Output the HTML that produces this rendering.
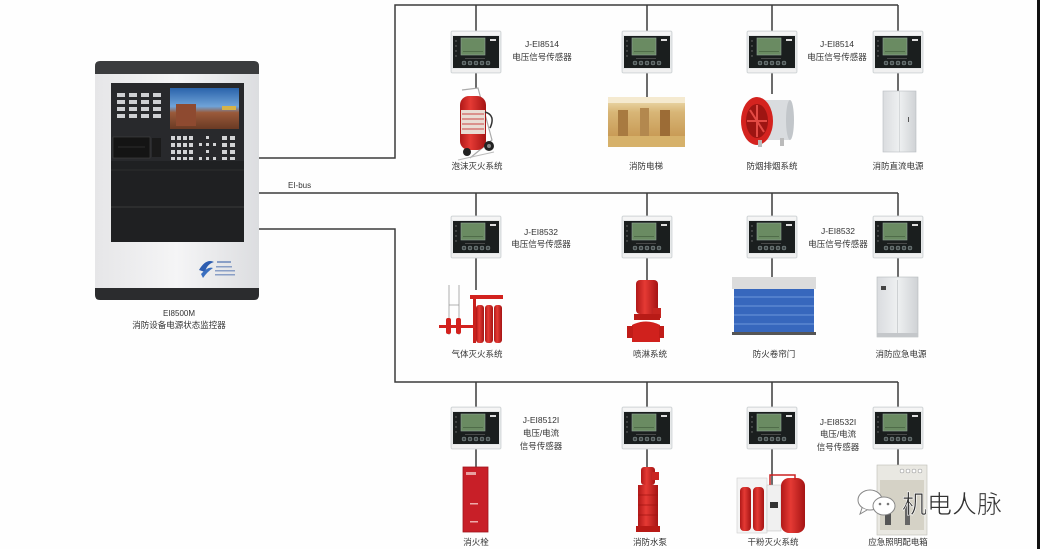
<!DOCTYPE html>
<html><head><meta charset="utf-8"><style>
html,body{margin:0;padding:0;background:#fff;}
svg{display:block;}
text{font-family:"Liberation Sans","Noto Sans CJK SC",sans-serif;fill:#333;}
</style></head><body>
<svg width="1040" height="549" viewBox="0 0 1040 549" xmlns="http://www.w3.org/2000/svg">
<defs>
<linearGradient id="body" x1="0" x2="1" y1="0" y2="0"><stop offset="0" stop-color="#e6e6e8"/><stop offset="0.5" stop-color="#f5f5f6"/><stop offset="1" stop-color="#dcdde0"/></linearGradient>
<linearGradient id="scr" x1="0" x2="0" y1="0" y2="1"><stop offset="0" stop-color="#2a63ab"/><stop offset="0.45" stop-color="#6fa3d8"/><stop offset="0.6" stop-color="#9a5a3a"/><stop offset="1" stop-color="#6a3a24"/></linearGradient>
<linearGradient id="lobby" x1="0" x2="0" y1="0" y2="1"><stop offset="0" stop-color="#f1e2b8"/><stop offset="0.3" stop-color="#d8b677"/><stop offset="0.8" stop-color="#c89a55"/><stop offset="1" stop-color="#e2c990"/></linearGradient>
<linearGradient id="cyl" x1="0" x2="1" y1="0" y2="0"><stop offset="0" stop-color="#b01818"/><stop offset="0.4" stop-color="#e53a34"/><stop offset="1" stop-color="#a51414"/></linearGradient>
<linearGradient id="cab" x1="0" x2="1" y1="0" y2="0"><stop offset="0" stop-color="#dadcdf"/><stop offset="0.5" stop-color="#eef0f1"/><stop offset="1" stop-color="#cfd2d5"/></linearGradient>
<g id="sensor">
  <rect x="0" y="0" width="50" height="42" rx="1.5" fill="#e6e8e9" stroke="#cfd3d5" stroke-width="0.8"/>
  <rect x="1" y="1" width="48" height="3" fill="#f5f5f5"/>
  <rect x="2" y="5" width="46" height="32" fill="#1a1e1e"/>
  <rect x="10" y="7" width="24" height="17" fill="#6a8b62" stroke="#8fa596" stroke-width="0.6"/>
  <rect x="12" y="20" width="20" height="1" fill="#4f6c49"/>
  <circle cx="5" cy="10" r="0.7" fill="#777"/><circle cx="5" cy="15" r="0.7" fill="#777"/><circle cx="5" cy="20" r="0.7" fill="#777"/><circle cx="5" cy="25" r="0.7" fill="#777"/>
  <rect x="39" y="8" width="6" height="2" fill="#ddd"/>
  <rect x="14" y="27" width="20" height="0.8" fill="#555"/>
  <circle cx="13" cy="32" r="2" fill="#3e4444" stroke="#9aa" stroke-width="0.5"/>
  <circle cx="19" cy="32" r="2" fill="#3e4444" stroke="#9aa" stroke-width="0.5"/>
  <circle cx="25" cy="32" r="2" fill="#3e4444" stroke="#9aa" stroke-width="0.5"/>
  <circle cx="31" cy="32" r="2" fill="#3e4444" stroke="#9aa" stroke-width="0.5"/>
  <circle cx="37" cy="32" r="2" fill="#3e4444" stroke="#9aa" stroke-width="0.5"/>
  <rect x="1" y="38" width="48" height="3" fill="#f0f0f0"/>
</g>
</defs>

<rect x="0" y="0" width="1040" height="549" fill="#fefefe"/>
<rect x="1037" y="0" width="3" height="549" fill="#111"/>

<!-- bus lines -->
<g stroke="#3c3c3c" stroke-width="1.5" fill="none">
  <path d="M258,158 H395 V5 H898"/>
  <path d="M258,193 H898"/>
  <path d="M258,229 H395 V382 H898"/>
  <path d="M476,5 V31 M476,73 V88"/>
  <path d="M647,5 V31 M647,73 V97"/>
  <path d="M772,5 V31 M772,73 V94"/>
  <path d="M898,5 V31 M898,73 V91"/>
  <path d="M476,193 V216 M476,258 V290"/>
  <path d="M647,193 V216 M647,258 V280"/>
  <path d="M772,193 V216 M772,258 V278"/>
  <path d="M898,193 V216 M898,258 V278"/>
  <path d="M476,382 V407 M476,449 V468"/>
  <path d="M647,382 V407 M647,449 V468"/>
  <path d="M772,382 V407 M772,449 V485"/>
  <path d="M898,382 V407 M898,449 V466"/>
</g>
<text x="288" y="188" font-size="8" fill="#444">EI-bus</text>

<!-- sensors -->
<use href="#sensor" x="451" y="31"/><use href="#sensor" x="622" y="31"/><use href="#sensor" x="747" y="31"/><use href="#sensor" x="873" y="31"/>
<use href="#sensor" x="451" y="216"/><use href="#sensor" x="622" y="216"/><use href="#sensor" x="747" y="216"/><use href="#sensor" x="873" y="216"/>
<use href="#sensor" x="451" y="407"/><use href="#sensor" x="622" y="407"/><use href="#sensor" x="747" y="407"/><use href="#sensor" x="873" y="407"/>

<!-- sensor labels -->
<g font-size="8.5" text-anchor="middle">
  <text x="542" y="47">J-EI8514</text><text x="542" y="60">电压信号传感器</text>
  <text x="837" y="47">J-EI8514</text><text x="837" y="60">电压信号传感器</text>
  <text x="541" y="235">J-EI8532</text><text x="541" y="247">电压信号传感器</text>
  <text x="838" y="234">J-EI8532</text><text x="838" y="247">电压信号传感器</text>
  <text x="541" y="423">J-EI8512I</text><text x="541" y="436">电压/电流</text><text x="541" y="449">信号传感器</text>
  <text x="838" y="425">J-EI8532I</text><text x="838" y="437">电压/电流</text><text x="838" y="450">信号传感器</text>
</g>

<!-- item labels -->
<g font-size="8.5" text-anchor="middle">
  <text x="477" y="169">泡沫灭火系统</text>
  <text x="646" y="169">消防电梯</text>
  <text x="772" y="169">防烟排烟系统</text>
  <text x="898" y="169">消防直流电源</text>
  <text x="477" y="357">气体灭火系统</text>
  <text x="650" y="357">喷淋系统</text>
  <text x="774" y="357">防火卷帘门</text>
  <text x="901" y="357">消防应急电源</text>
  <text x="476" y="545">消火栓</text>
  <text x="650" y="545">消防水泵</text>
  <text x="773" y="545">干粉灭火系统</text>
  <text x="898" y="545">应急照明配电箱</text>
</g>

<!-- main panel -->
<rect x="95" y="61" width="164" height="239" rx="5" fill="url(#body)"/>
<path d="M95,74 V66 Q95,61 100,61 H254 Q259,61 259,66 V74 Z" fill="#3b3c3e"/>
<path d="M95,288 H259 V295 Q259,300 254,300 H100 Q95,300 95,295 Z" fill="#2b2c2e"/>
<rect x="111" y="83" width="133" height="159" fill="#1f2022"/>
<rect x="111" y="83" width="133" height="78" fill="#28292c"/>
<line x1="111" y1="170" x2="244" y2="170" stroke="#333" stroke-width="0.8"/>
<line x1="111" y1="207" x2="244" y2="207" stroke="#3a3a3a" stroke-width="1"/>
<rect x="170" y="88" width="69" height="41" fill="url(#scr)"/>
<rect x="176" y="104" width="20" height="22" fill="#8e4a30"/>
<rect x="222" y="106" width="14" height="4" fill="#d7b347"/>
<g fill="#cfd0d3">
  <rect x="117" y="93" width="8" height="4"/><rect x="129" y="93" width="8" height="4"/><rect x="141" y="93" width="8" height="4"/><rect x="153" y="93" width="8" height="4"/>
  <rect x="117" y="100" width="8" height="4"/><rect x="129" y="100" width="8" height="4"/><rect x="141" y="100" width="8" height="4"/><rect x="153" y="100" width="8" height="4"/>
  <rect x="117" y="107" width="8" height="4"/><rect x="129" y="107" width="8" height="4"/><rect x="141" y="107" width="8" height="4"/><rect x="153" y="107" width="8" height="4"/>
  <rect x="117" y="114" width="8" height="4"/><rect x="129" y="114" width="8" height="4"/><rect x="141" y="114" width="8" height="4"/><rect x="153" y="114" width="8" height="4"/>
</g>
<rect x="113" y="137" width="37" height="21" fill="#141414" stroke="#444" stroke-width="0.6"/>
<line x1="118" y1="147" x2="145" y2="147" stroke="#444" stroke-width="0.6"/>
<rect x="152" y="138" width="9" height="19" fill="#1a1a1a"/>
<g fill="#d2d3d5">
  <rect x="171" y="136" width="4" height="4"/><rect x="177" y="136" width="4" height="4"/><rect x="183" y="136" width="4" height="4"/><rect x="189" y="136" width="4" height="4"/><rect x="206" y="136" width="3" height="3"/><rect x="222" y="136" width="5" height="4"/><rect x="230" y="136" width="5" height="4"/>
  <rect x="171" y="143" width="4" height="4"/><rect x="177" y="143" width="4" height="4"/><rect x="183" y="143" width="4" height="4"/><rect x="189" y="143" width="4" height="4"/><rect x="199" y="143" width="3" height="3"/><rect x="206" y="143" width="3" height="3"/><rect x="213" y="143" width="3" height="3"/><rect x="222" y="143" width="5" height="4"/><rect x="230" y="143" width="5" height="4"/>
  <rect x="171" y="150" width="4" height="4"/><rect x="177" y="150" width="4" height="4"/><rect x="183" y="150" width="4" height="4"/><rect x="189" y="150" width="4" height="4"/><rect x="206" y="150" width="3" height="3"/><rect x="222" y="150" width="5" height="4"/><rect x="230" y="150" width="5" height="4"/>
  <rect x="171" y="157" width="4" height="3"/><rect x="177" y="157" width="4" height="3"/><rect x="183" y="157" width="4" height="3"/><rect x="189" y="157" width="4" height="3"/><rect x="199" y="157" width="3" height="3"/><rect x="206" y="157" width="3" height="3"/><rect x="213" y="157" width="3" height="3"/><rect x="222" y="157" width="5" height="3"/><rect x="230" y="157" width="5" height="3"/>
</g>
<path d="M199,270 Q206,258 214,262 Q207,264 205,272 Z" fill="#2d5db0"/>
<path d="M201,274 Q208,266 213,268 Q207,272 203,278 Z" fill="#3a6fc0"/>
<g fill="#8a9fc6"><rect x="217" y="261" width="14" height="2"/><rect x="216" y="266" width="16" height="1.5"/><rect x="215" y="270" width="20" height="1.5"/><rect x="215" y="274" width="20" height="1.5"/></g>
<text x="179" y="316" font-size="8" text-anchor="middle">EI8500M</text>
<text x="179" y="328" font-size="8.5" text-anchor="middle">消防设备电源状态监控器</text>

<!-- 1 foam extinguisher -->
<g>
  <path d="M462,90 L478,88 L492,140 L470,158" stroke="#aaa" stroke-width="1.2" fill="none"/>
  <rect x="460" y="96" width="26" height="54" rx="9" fill="url(#cyl)"/>
  <rect x="461" y="110" width="24" height="24" fill="#e9dcd4"/>
  <g stroke="#c44" stroke-width="1"><line x1="462" y1="114" x2="484" y2="114"/><line x1="462" y1="119" x2="484" y2="119"/><line x1="462" y1="124" x2="484" y2="124"/><line x1="462" y1="129" x2="484" y2="129"/></g>
  <path d="M485,112 Q496,115 490,128" stroke="#333" stroke-width="1.5" fill="none"/>
  <circle cx="467" cy="152" r="4" fill="#222"/>
  <circle cx="489" cy="146" r="5" fill="#222"/><circle cx="489" cy="146" r="2" fill="#888"/>
  <path d="M458,160 L494,152" stroke="#bbb" stroke-width="1"/>
</g>

<!-- 2 elevator lobby -->
<rect x="608" y="97" width="77" height="50" fill="url(#lobby)"/>
<rect x="608" y="97" width="77" height="6" fill="#f5ead0"/>
<rect x="618" y="110" width="10" height="26" fill="#a87a40"/>
<rect x="640" y="108" width="9" height="28" fill="#b3884e"/>
<rect x="660" y="110" width="10" height="26" fill="#9c6c36"/>
<rect x="608" y="136" width="77" height="11" fill="#d6b16a"/>

<!-- 3 fan -->
<rect x="756" y="100" width="34" height="40" fill="#d9dcdf"/>
<ellipse cx="790" cy="120" rx="4" ry="20" fill="#c2c6ca"/>
<ellipse cx="757" cy="121" rx="16" ry="24" fill="#d4231f"/>
<ellipse cx="757" cy="121" rx="11" ry="17" fill="#9e1512"/>
<g stroke="#e34a44" stroke-width="2"><line x1="757" y1="105" x2="757" y2="137"/><line x1="747" y1="121" x2="767" y2="121"/><line x1="750" y1="110" x2="764" y2="132"/></g>
<rect x="758" y="140" width="4" height="7" fill="#bbb"/><rect x="780" y="138" width="4" height="8" fill="#bbb"/>

<!-- 4 DC cabinet -->
<rect x="883" y="91" width="33" height="61" fill="url(#cab)" stroke="#b8bcc0" stroke-width="0.6"/>
<line x1="899.5" y1="91" x2="899.5" y2="152" stroke="#c5c8cb" stroke-width="0.6"/>
<rect x="908" y="117" width="1" height="5" fill="#555"/>

<!-- 5 gas suppression -->
<g>
  <rect x="470" y="295" width="33" height="4" fill="#d2221e"/>
  <rect x="473" y="299" width="3" height="44" fill="#c8201c"/>
  <rect x="476" y="305" width="8" height="38" rx="3" fill="url(#cyl)"/>
  <rect x="485" y="305" width="8" height="38" rx="3" fill="url(#cyl)"/>
  <rect x="494" y="305" width="8" height="38" rx="3" fill="url(#cyl)"/>
  <g stroke="#999" stroke-width="0.8" fill="none"><path d="M449,285 V335 M459,285 V335 M449,305 H459"/></g>
  <rect x="439" y="325" width="36" height="3" fill="#d2221e"/>
  <rect x="446" y="318" width="5" height="16" rx="2" fill="#d2221e"/>
  <rect x="456" y="318" width="5" height="16" rx="2" fill="#d2221e"/>
</g>

<!-- 6 pump -->
<rect x="636" y="280" width="22" height="34" rx="4" fill="url(#cyl)"/>
<rect x="653" y="308" width="8" height="10" fill="#c52520"/>
<rect x="634" y="314" width="26" height="6" fill="#b81b17"/>
<path d="M632,325 Q646,318 660,325 L660,342 L632,342 Z" fill="#d0211d"/>
<rect x="627" y="326" width="6" height="12" fill="#c01c18"/><rect x="659" y="326" width="5" height="12" fill="#c01c18"/>

<!-- 7 shutter -->
<rect x="732" y="277" width="84" height="12" fill="#dcdcdc"/>
<rect x="734" y="289" width="80" height="44" fill="#3767bd"/>
<g stroke="#6e97da" stroke-width="1"><line x1="734" y1="297" x2="814" y2="297"/><line x1="734" y1="306" x2="814" y2="306"/><line x1="734" y1="315" x2="814" y2="315"/><line x1="734" y1="324" x2="814" y2="324"/></g>
<rect x="732" y="332" width="84" height="3" fill="#555"/>

<!-- 8 emergency power cabinet -->
<rect x="877" y="277" width="41" height="60" fill="url(#cab)" stroke="#b5b9bd" stroke-width="0.6"/>
<line x1="897.5" y1="280" x2="897.5" y2="334" stroke="#b9bcc0" stroke-width="0.6"/>
<rect x="881" y="286" width="5" height="4" fill="#444"/>
<rect x="877" y="333" width="41" height="4" fill="#c4c7ca"/>

<!-- 9 hydrant -->
<rect x="463" y="467" width="25" height="65" fill="#c81f28" stroke="#a0151c" stroke-width="0.8"/>
<rect x="466" y="472" width="10" height="3" fill="#e8a0a0"/>
<rect x="470" y="503" width="8" height="1.5" fill="#eaa"/>
<rect x="470" y="521" width="8" height="1.5" fill="#eaa"/>

<!-- 10 vertical pump -->
<rect x="641" y="467" width="14" height="18" rx="3" fill="url(#cyl)"/>
<rect x="652" y="472" width="7" height="8" fill="#c92420"/>
<rect x="638" y="485" width="20" height="42" fill="url(#cyl)"/>
<g stroke="#a01410" stroke-width="0.8"><line x1="638" y1="495" x2="658" y2="495"/><line x1="638" y1="505" x2="658" y2="505"/><line x1="638" y1="515" x2="658" y2="515"/></g>
<rect x="636" y="526" width="24" height="6" fill="#b81a16"/>

<!-- 11 dry powder -->
<rect x="737" y="478" width="30" height="55" fill="#f4f4f4" stroke="#ccc" stroke-width="0.6"/>
<rect x="740" y="487" width="11" height="44" rx="4" fill="url(#cyl)"/>
<rect x="753" y="487" width="11" height="44" rx="4" fill="url(#cyl)"/>
<rect x="767" y="485" width="14" height="46" fill="#f0f0f0" stroke="#bbb" stroke-width="0.5"/>
<rect x="770" y="502" width="8" height="6" fill="#333"/>
<rect x="781" y="478" width="24" height="55" rx="8" fill="url(#cyl)"/>
<path d="M770,485 V475 H795 V480" stroke="#c22" stroke-width="1.5" fill="none"/>

<!-- 12 emergency lighting cabinet -->
<rect x="877" y="465" width="50" height="70" fill="#e9e8e2" stroke="#bdbcb5" stroke-width="0.6"/>
<g fill="#fff" stroke="#888" stroke-width="0.5"><circle cx="902" cy="471" r="2"/><circle cx="908" cy="471" r="2"/><circle cx="914" cy="471" r="2"/><circle cx="920" cy="471" r="2"/></g>
<rect x="880" y="480" width="44" height="50" fill="#d5d2c6"/>
<rect x="885" y="505" width="6" height="20" fill="#555"/><rect x="905" y="503" width="5" height="22" fill="#666"/>

<!-- watermark -->
<g>
  <ellipse cx="870" cy="500" rx="12" ry="10" fill="#fff" stroke="#888" stroke-width="1"/>
  <path d="M862,508 L860,514 L867,510" fill="#fff" stroke="#888" stroke-width="1"/>
  <ellipse cx="884" cy="506" rx="11" ry="9" fill="#fff" stroke="#888" stroke-width="1"/>
  <circle cx="880" cy="504" r="1.3" fill="#777"/><circle cx="888" cy="504" r="1.3" fill="#777"/>
  <text x="902" y="513" font-size="25" fill="#666" stroke="#fff" stroke-width="0.6" font-family="'Noto Sans CJK SC',sans-serif">机电人脉</text>
</g>
</svg>
</body></html>
